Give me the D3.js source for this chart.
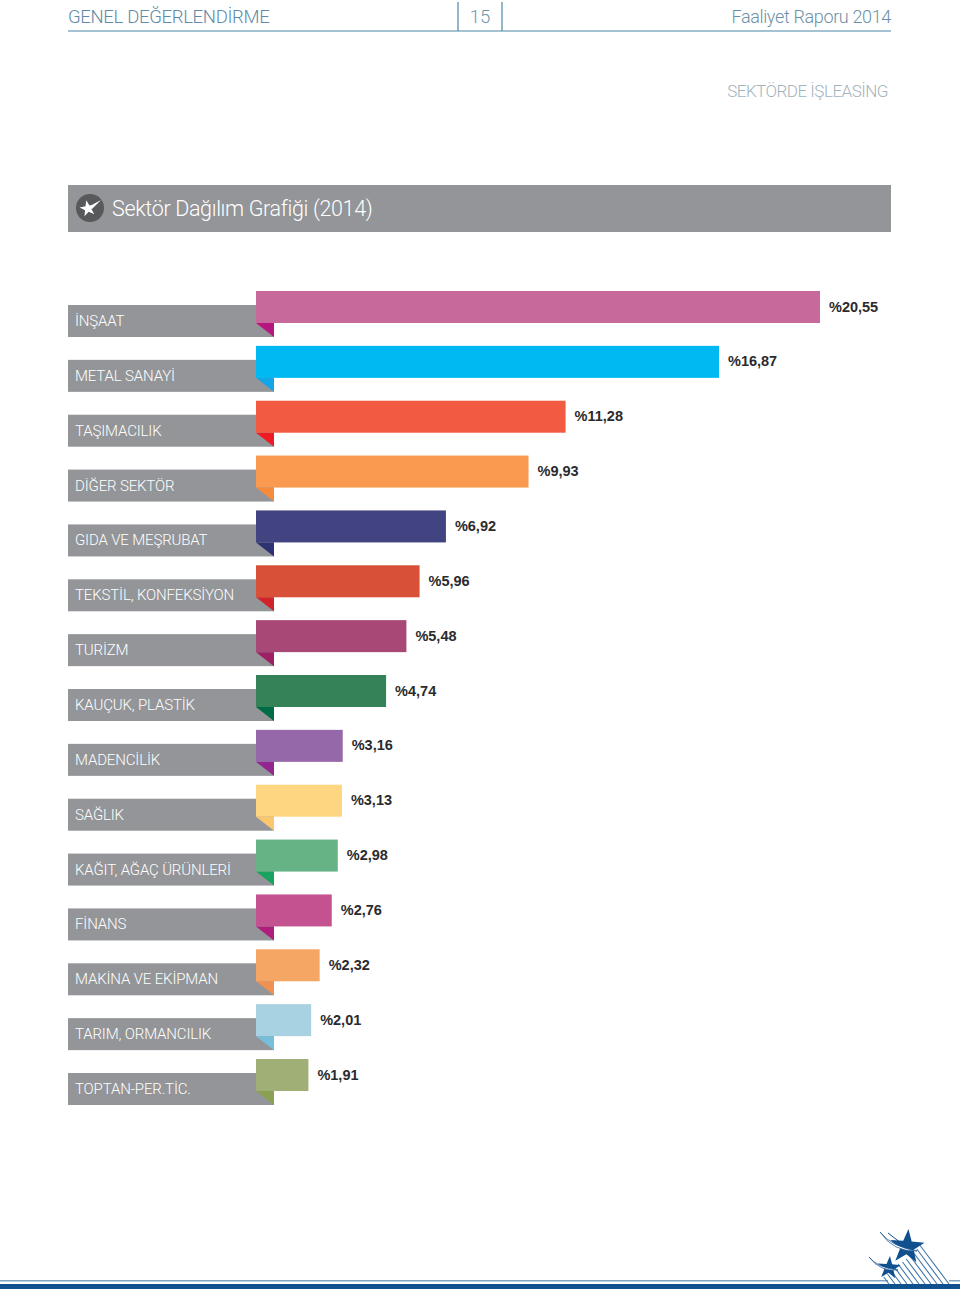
<!DOCTYPE html>
<html><head><meta charset="utf-8">
<script src="https://cdnjs.cloudflare.com/ajax/libs/d3/7.8.5/d3.min.js"></script>
<style>html,body{margin:0;padding:0;background:#fff}svg{display:block}</style>
</head><body><svg id="c" width="960" height="1289"></svg>
<script>
const categories=["İNŞAAT","METAL SANAYİ","TAŞIMACILIK","DİĞER SEKTÖR","GIDA VE MEŞRUBAT","TEKSTİL, KONFEKSİYON","TURİZM","KAUÇUK, PLASTİK","MADENCİLİK","SAĞLIK","KAĞIT, AĞAÇ ÜRÜNLERİ","FİNANS","MAKİNA VE EKİPMAN","TARIM, ORMANCILIK","TOPTAN-PER.TİC."];
const values=[20.55,16.87,11.28,9.93,6.92,5.96,5.48,4.74,3.16,3.13,2.98,2.76,2.32,2.01,1.91];
const valueLabels=["%20,55","%16,87","%11,28","%9,93","%6,92","%5,96","%5,48","%4,74","%3,16","%3,13","%2,98","%2,76","%2,32","%2,01","%1,91"];
const barColors=["#c76a9b","#00b9f2","#f25a41","#fa9a50","#414481","#d85038","#a84876","#358158","#9568a9","#fed581","#66b385","#c55290","#f5a664","#a8d1e2","#a0af76"];
const foldColors=["#b5177f","#12a6e6","#ed1c24","#f58b3c","#2e3272","#d2232a","#9e1f63","#006c45","#92278f","#fbc76e","#1aa260","#b01e7d","#ef9150","#76bedb","#8aa054"];
const light="Roboto, 'Liberation Sans', sans-serif";
const bold="'Liberation Sans', Arial, sans-serif";
const svg=d3.select("#c");
const x=d3.scaleLinear().domain([0,20.55]).range([256,820]);
const bh=32;
const y=d3.scaleBand().domain(categories).range([291,1091]).paddingInner(1-bh/54.86).paddingOuter(0);
function txt(t,px,py,size,fill,ls,anchor){return svg.append("text").attr("x",px).attr("y",py).attr("font-family",light).attr("font-weight",300).attr("font-size",size).attr("letter-spacing",ls).attr("fill",fill).attr("text-anchor",anchor||"start").text(t);}

// header
svg.append("line").attr("x1",68).attr("x2",891).attr("y1",31).attr("y2",31).attr("stroke","#4c86a8").attr("stroke-width",1.2);
[458,502].forEach(v=>svg.append("line").attr("x1",v).attr("x2",v).attr("y1",2).attr("y2",31).attr("stroke","#4c86a8").attr("stroke-width",1.2));
txt("GENEL DEĞERLENDİRME",68,23,18.5,"#5f8ba6",-0.32);
txt("15",480,23,18.5,"#6f95ad",0,"middle");
txt("Faaliyet Raporu 2014",891,23,18,"#6b90a9",-0.35,"end");
txt("SEKTÖRDE İŞLEASİNG",888,97,17,"#9fb4bd",-0.5,"end");

// banner
svg.append("rect").attr("x",68).attr("y",185).attr("width",823).attr("height",47).attr("fill","#939598");
svg.append("circle").attr("cx",90).attr("cy",208).attr("r",14).attr("fill","#58595b");
const starPath=(R,r,rot=0)=>d3.lineRadial().angle((d,i)=>rot+i*Math.PI/5).radius((d,i)=>i%2?r:R).curve(d3.curveLinearClosed)(d3.range(10));
svg.append("path").attr("transform","translate(88,208.5)").attr("d",starPath(8.5,3.4,-0.2)).attr("fill","#fff");
svg.append("path").attr("d","M90 206 L101 200 L92 209 Z").attr("fill","#fff");
txt("Sektör Dağılım Grafiği (2014)",112,216,21.5,"#fff",-0.35);

// rows
const rows=svg.append("g").selectAll("g").data(categories).join("g");
rows.append("rect").attr("x",68).attr("y",c=>y(c)+14).attr("width",206).attr("height",bh).attr("fill","#939598");
rows.append("path").attr("d",c=>`M256 ${y(c)+bh} L274 ${y(c)+bh} L274 ${y(c)+bh+14} Z`).attr("fill",(c,i)=>foldColors[i]);
rows.append("rect").attr("x",x(0)).attr("y",c=>y(c)).attr("width",(c,i)=>x(values[i])-x(0)).attr("height",bh).attr("fill",(c,i)=>barColors[i]);
rows.append("text").attr("x",75).attr("y",c=>y(c)+35).attr("font-family",light).attr("font-weight",300).attr("font-size",15).attr("letter-spacing",-0.15).attr("fill","#fff").text(c=>c);
rows.append("text").attr("x",(c,i)=>x(values[i])+9).attr("y",c=>y(c)+20.5).attr("font-family",bold).attr("font-weight",700).attr("font-size",14.5).attr("fill","#2b2b2d").text((c,i)=>valueLabels[i]);

// footer band & logo
const blue="#11508f";
svg.append("rect").attr("x",0).attr("y",1284).attr("width",960).attr("height",5).attr("fill",blue);
svg.append("rect").attr("x",0).attr("y",1280).attr("width",960).attr("height",1.5).attr("fill","#7fa3c4");
const logo=svg.append("g");
logo.append("rect").attr("x",888).attr("y",1279).attr("width",61).attr("height",5).attr("fill","#fff");
const stripeEnds=[949,943,937,931,925,919,913,907,901,895,889];
const stripeTops=[1245,1249,1252,1256,1259,1262,1264,1266,1270,1274,1277];
stripeEnds.forEach((e,i)=>logo.append("line").attr("x1",e-(1284-stripeTops[i])*0.75).attr("y1",stripeTops[i]).attr("x2",e).attr("y2",1284).attr("stroke","#3f76ab").attr("stroke-width",1.1));
[[907,1247,18,7.2],[889,1268,12,4.8]].forEach(([cx,cy,R,r])=>logo.append("path").attr("transform",`translate(${cx},${cy})`).attr("d",starPath(R,r,0.08)).attr("fill",blue));
logo.append("path").attr("d","M880 1232 Q892 1247 917 1251 Q893 1252 880 1232Z").attr("fill","#fff").attr("stroke",blue).attr("stroke-width",.7);
logo.append("path").attr("d","M888 1233 Q898 1242 908 1246").attr("fill","none").attr("stroke",blue).attr("stroke-width",1);
logo.append("path").attr("d","M869 1257 Q878 1268 898 1270 Q880 1272 869 1257Z").attr("fill","#fff").attr("stroke",blue).attr("stroke-width",.7);
</script></body></html>
